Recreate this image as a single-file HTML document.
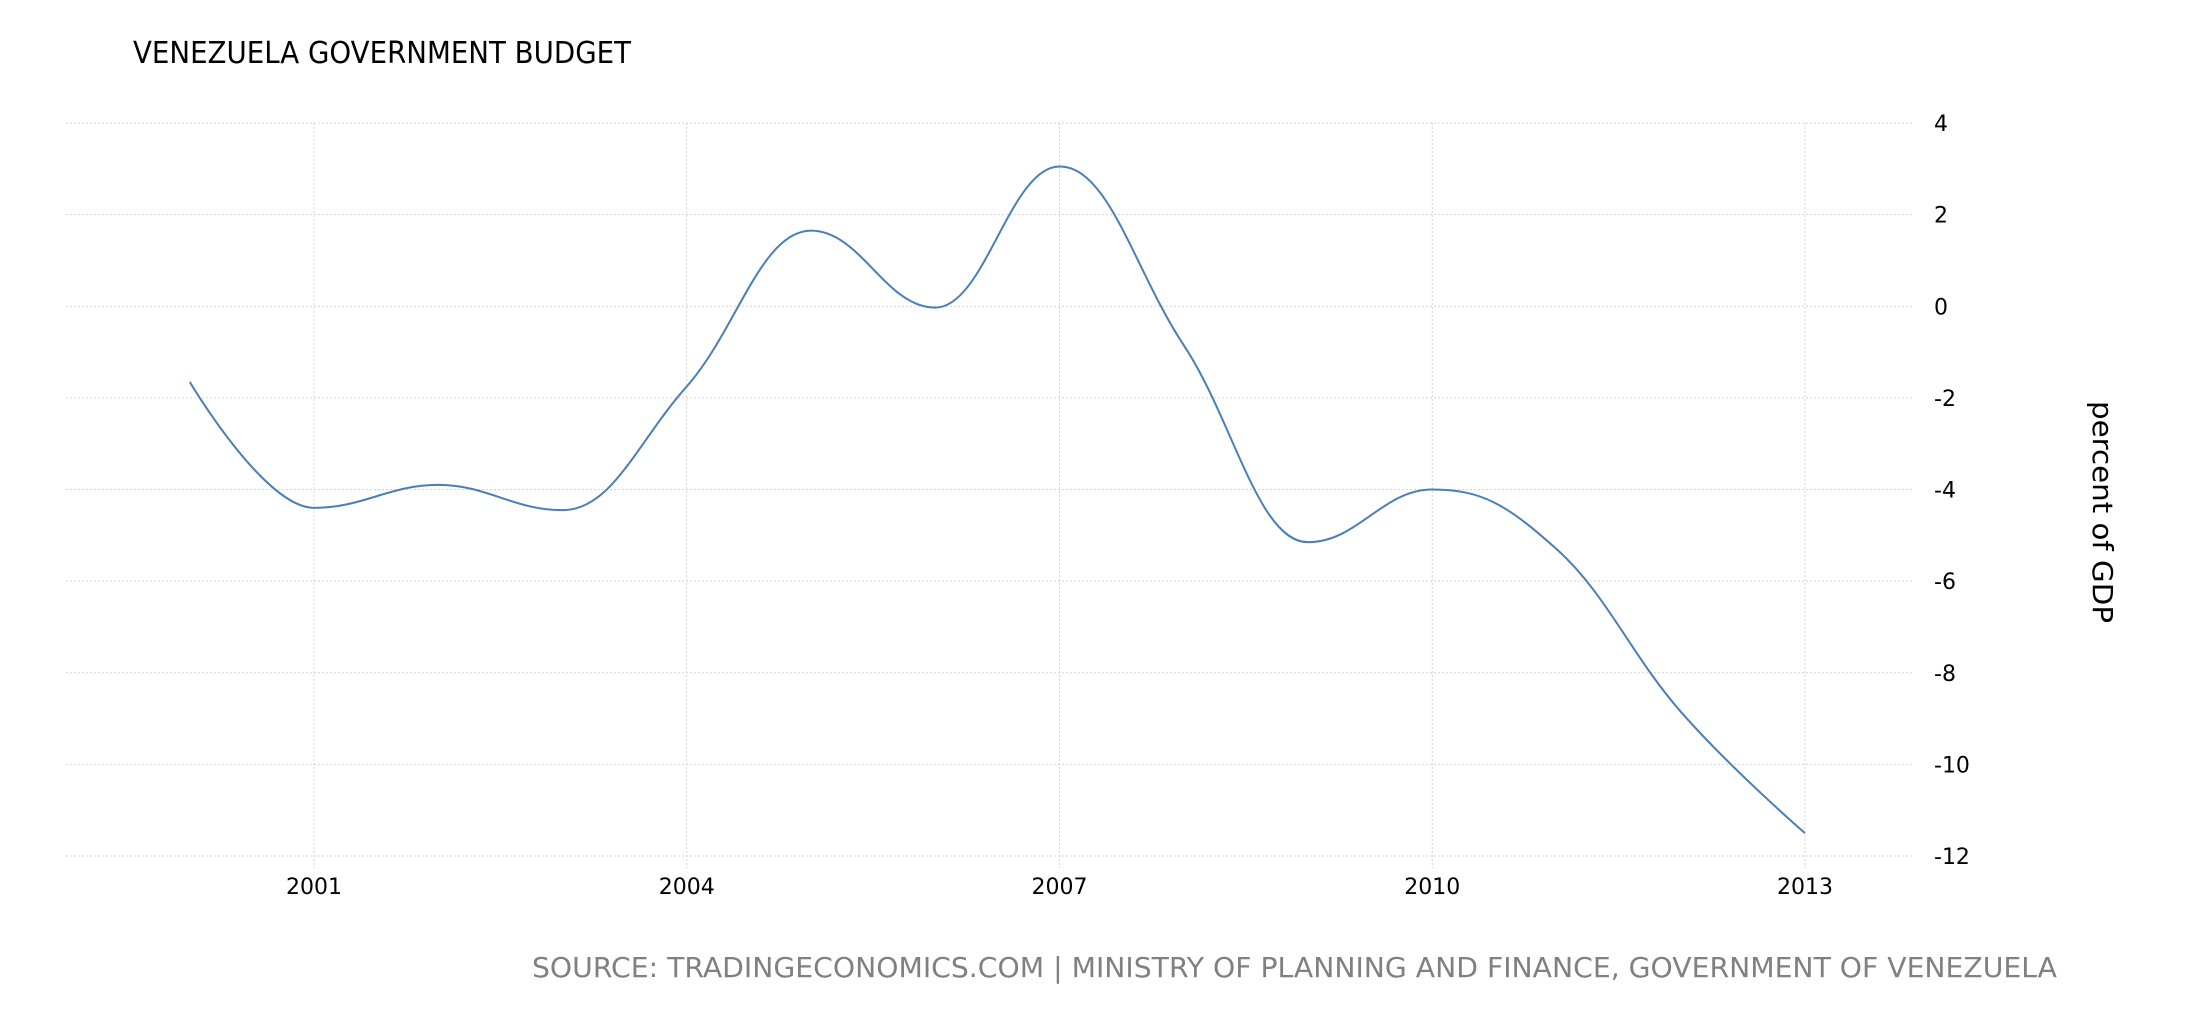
<!DOCTYPE html>
<html><head><meta charset="utf-8"><style>
html,body{margin:0;padding:0;background:#fff;}
svg{display:block;}
text{font-family:"DejaVu Sans","Liberation Sans",sans-serif;}
</style></head><body>
<svg id="c" width="2190" height="1020" xmlns="http://www.w3.org/2000/svg">
<text x="133" y="63" font-size="30" fill="#000" textLength="498" lengthAdjust="spacingAndGlyphs">VENEZUELA GOVERNMENT BUDGET</text>
<g id="grid" stroke="#d4d4d4" stroke-width="1" stroke-dasharray="2,2"></g>
<g id="lab" font-size="22" fill="#000"></g>
<path id="line" fill="none" stroke="#4a7fb5" stroke-width="2"/>
<text transform="translate(2093,512) rotate(90)" text-anchor="middle" font-size="28" fill="#000" textLength="222" lengthAdjust="spacingAndGlyphs">percent of GDP</text>
<text x="532" y="977" font-size="28" fill="#808080" textLength="1525" lengthAdjust="spacingAndGlyphs">SOURCE: TRADINGECONOMICS.COM | MINISTRY OF PLANNING AND FINANCE, GOVERNMENT OF VENEZUELA</text>
</svg>
<script>
var NS="http://www.w3.org/2000/svg";
function el(p,t,a,txt){var e=document.createElementNS(NS,t);for(var k in a)e.setAttribute(k,a[k]);if(txt!=null)e.textContent=txt;document.getElementById(p).appendChild(e);return e;}
var L=66,R=1914,T=123,B=856;
function Y(v){return T+(4-v)*(B-T)/16;}
function X(yr){return 314+(yr-2001)*124.25;}
for(var v=4;v>=-12;v-=2){var y=Y(v);el("grid","line",{x1:L,x2:R,y1:y,y2:y});el("lab","text",{x:1934,y:y+8},String(v));}
[2001,2004,2007,2010,2013].forEach(function(yr){var x=X(yr);el("grid","line",{x1:x,x2:x,y1:T,y2:B+12});el("lab","text",{x:x,y:894,"text-anchor":"middle"},String(yr));});
var d=[-1.65,-4.4,-3.9,-4.45,-1.75,1.65,-0.03,3.05,-0.85,-5.15,-4.0,-5.3,-8.85,-11.5];
var p=d.map(function(v,i){return [X(2000+i),Y(v)];});
var s=1.5,den=s+1,path="M"+p[0][0]+","+p[0][1];
function ctrl(i){var a=p[i-1],b=p[i],c=p[i+1];
 var lx=(s*b[0]+a[0])/den,ly=(s*b[1]+a[1])/den,rx=(s*b[0]+c[0])/den,ry=(s*b[1]+c[1])/den;
 var corr=((ry-ly)*(rx-b[0]))/(rx-lx)+b[1]-ry;ly+=corr;ry+=corr;
 if(ly>a[1]&&ly>b[1]){ly=Math.max(a[1],b[1]);ry=2*b[1]-ly;}else if(ly<a[1]&&ly<b[1]){ly=Math.min(a[1],b[1]);ry=2*b[1]-ly;}
 if(ry>c[1]&&ry>b[1]){ry=Math.max(c[1],b[1]);ly=2*b[1]-ry;}else if(ry<c[1]&&ry<b[1]){ry=Math.min(c[1],b[1]);ly=2*b[1]-ry;}
 return {l:[lx,ly],r:[rx,ry]};}
var cs=[null];for(var i=1;i<p.length-1;i++)cs.push(ctrl(i));
for(var i=1;i<p.length;i++){var c1=i-1>0?cs[i-1].r:p[i-1];var c2=i<p.length-1?cs[i].l:p[i];
 path+=" C"+c1[0]+","+c1[1]+" "+c2[0]+","+c2[1]+" "+p[i][0]+","+p[i][1];}
document.getElementById("line").setAttribute("d",path);
</script>
</body></html>
